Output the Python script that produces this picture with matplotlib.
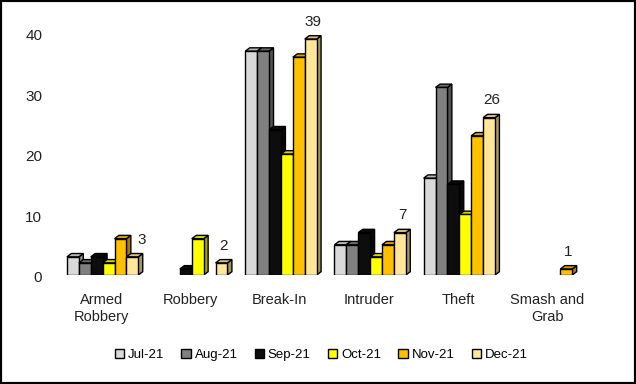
import numpy as np
import matplotlib.pyplot as plt
from matplotlib.patches import Rectangle, Polygon, Patch
from matplotlib.transforms import blended_transform_factory

plt.rcParams['font.family'] = ['Liberation Sans', 'DejaVu Sans']

categories = ["Armed\nRobbery", "Robbery", "Break-In", "Intruder", "Theft", "Smash and\nGrab"]
months = ["Jul-21", "Aug-21", "Sep-21", "Oct-21", "Nov-21", "Dec-21"]
jul = [3, 0, 37, 5, 16, 0]
aug = [2, 0, 37, 5, 31, 0]
sep = [3, 1, 24, 7, 15, 0]
octo = [2, 6, 20, 3, 10, 0]
nov = [6, 0, 36, 5, 23, 1]
dec = [3, 2, 39, 7, 26, 0]
series = [jul, aug, sep, octo, nov, dec]
colors = ["#D9D9D9", "#808080", "#0D0D0D", "#FFFF00", "#FFC000", "#FFE699"]
yticks = [0, 10, 20, 30, 40]
# which series carries the value label in each category
label_series = [5, 5, 5, 5, 5, 4]
label_dx = [5, 0, 0, 0, 0, 0]  # points, nudge to dodge the neighbour bar


def shade(c, f):
    c = c.lstrip('#')
    rgb = [int(c[k:k+2], 16) / 255 for k in (0, 2, 4)]
    return tuple(v * f for v in rgb)


fig = plt.figure(figsize=(6.36, 3.84), dpi=100)
ax = fig.add_axes([50/636, 109/384, 560/636, 265/384])
ax.set_xlim(-0.59, 5.69)
ax.set_ylim(0, 43.8)

w = 0.8 / 6
dx = 0.05
dy = 0.55
for j, vals in enumerate(series):
    for i, v in enumerate(vals):
        if v == 0:
            continue
        x0 = i - 0.4 + j * w
        z = 2 + j * 0.1
        side = Polygon([(x0 + w, 0), (x0 + w + dx, dy), (x0 + w + dx, v + dy), (x0 + w, v)],
                       closed=True, facecolor=shade(colors[j], 0.65), edgecolor='black', lw=1, zorder=z)
        top = Polygon([(x0, v), (x0 + dx, v + dy), (x0 + w + dx, v + dy), (x0 + w, v)],
                      closed=True, facecolor=shade(colors[j], 0.85), edgecolor='black', lw=1, zorder=z)
        front = Rectangle((x0, 0), w, v, facecolor=colors[j], edgecolor='black', lw=1, zorder=z + 0.01)
        ax.add_patch(side)
        ax.add_patch(top)
        ax.add_patch(front)

# value labels
for i, j in enumerate(label_series):
    v = series[j][i]
    x0 = i - 0.4 + j * w
    ax.annotate(str(v), (x0 + w / 2 + dx / 2, v + dy), xytext=(label_dx[i], 5), textcoords='offset points',
                ha='center', va='bottom', fontsize=11, color='#222222')

# y axis labels
tr = blended_transform_factory(ax.transAxes, ax.transData)
for t in yticks:
    ax.text(-0.014, t - 0.5, str(t), transform=tr, ha='right', va='center', fontsize=11, color='#222222')
ax.set_yticks([])

ax.set_xticks(np.arange(len(categories)) - 0.015)
ax.set_xticklabels(categories, fontsize=10.5, linespacing=1.25, color='#222222')
ax.tick_params(axis='x', length=0, pad=13)
for s in ax.spines.values():
    s.set_visible(False)

handles = [Patch(facecolor=c, edgecolor='black', lw=1) for c in colors]
fig.legend(handles, months, loc='center', bbox_to_anchor=(0.505, 0.075), ncol=6, frameon=False,
           fontsize=9.5, handlelength=0.7, handleheight=0.7, handletextpad=0.3, columnspacing=1.3)

fig.patches.append(Rectangle((0, 0), 1, 1, transform=fig.transFigure, fill=False,
                             edgecolor='black', lw=3))

plt.savefig("out.png", dpi=100)
